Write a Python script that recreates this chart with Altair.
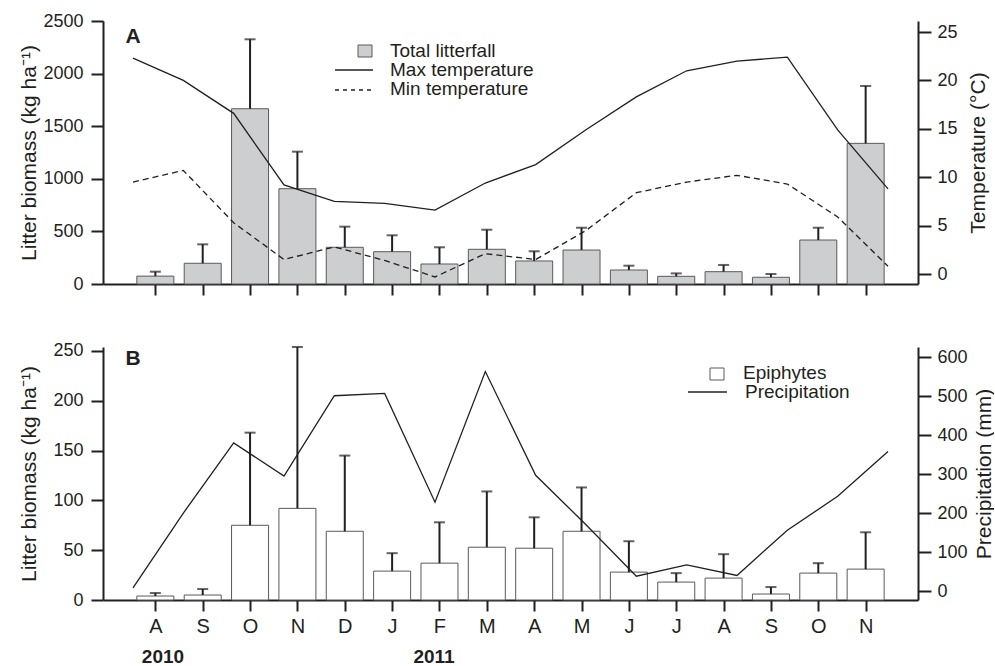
import altair as alt
import pandas as pd

# ---------------- data ----------------
months = ["A", "S", "O", "N", "D", "J", "F", "M", "A", "M", "J", "J", "A", "S", "O", "N"]
years = ["2010", "2011"]

litter = [75, 197, 1666, 906, 349, 307, 190, 330, 219, 323, 133, 73, 117, 64, 418, 1337]
litter_err = [42, 180, 660, 352, 196, 156, 159, 186, 92, 212, 41, 28, 64, 31, 117, 545]
tmax = [22.3, 20.0, 16.6, 9.2, 7.5, 7.3, 6.6, 9.4, 11.3, 14.9, 18.3, 21.0, 22.0, 22.4, 14.9, 8.8]
tmin = [9.5, 10.7, 5.3, 1.5, 2.8, 1.4, -0.3, 2.1, 1.5, 4.5, 8.4, 9.5, 10.2, 9.3, 5.9, 0.8]

epiphytes = [4, 5, 75, 92, 69, 29, 37, 53, 52, 69, 28, 18, 22, 6, 27, 31]
epiphytes_err = [3, 6, 93, 162, 76, 18, 41, 56, 31, 44, 31, 9, 24, 7, 10, 37]
precip = [8, 200, 380, 295, 501, 507, 228, 563, 297, 170, 38, 67, 40, 156, 243, 358]

# ---------------- styling ----------------
INK = "#231f20"
FONT = "Liberation Sans"
W = 815
H_TOP = 263
H_BOT = 253

pos = list(range(1, len(months) + 1))
top_df = pd.DataFrame({
    "pos": pos, "month": months, "val": litter,
    "upper": [v + e for v, e in zip(litter, litter_err)],
})
bot_df = pd.DataFrame({
    "pos": pos, "month": months, "val": epiphytes,
    "upper": [v + e for v, e in zip(epiphytes, epiphytes_err)],
})
temp_df = pd.DataFrame({"i": list(range(len(months))), "tmax": tmax, "tmin": tmin})
prec_df = pd.DataFrame({"i": list(range(len(months))), "precip": precip})

x_bar_scale = alt.Scale(domain=[0, len(months) + 1], nice=False, zero=False)
x_line_scale = alt.Scale(domain=[-0.596, len(months) - 1 + 0.596], nice=False, zero=False)

label_expr = "[" + ",".join("'" + m + "'" for m in [""] + months) + "][datum.value]"


def x_axis(show_labels):
    kw = dict(values=pos, tickSize=11, tickWidth=2, tickColor=INK, domainWidth=2,
              domainColor=INK, grid=False, title=None)
    if show_labels:
        return alt.Axis(labels=True, labelExpr=label_expr, labelFontSize=20, labelPadding=5,
                        labelColor=INK, labelFont=FONT, **kw)
    return alt.Axis(labels=False, **kw)


def left_axis(values, title, h):
    return alt.Axis(values=values, format="d", orient="left", tickSize=12, tickWidth=2,
                    tickColor=INK, domainWidth=2, domainColor=INK, labelFontSize=18,
                    labelPadding=8, labelColor=INK, labelFont=FONT, grid=False, title=title,
                    titleFontSize=21, titleFontWeight="normal", titleColor=INK, titleFont=FONT,
                    titleAngle=-90, titleX=-74, titleY=h / 2, titleBaseline="middle",
                    titleAlign="center")


def right_axis(values, title, h, tx):
    return alt.Axis(values=values, format="d", orient="right", tickSize=13, tickWidth=2,
                    tickColor=INK, domainWidth=2, domainColor=INK, labelFontSize=18,
                    labelPadding=6, labelColor=INK, labelFont=FONT, grid=False, title=title,
                    titleFontSize=21, titleFontWeight="normal", titleColor=INK, titleFont=FONT,
                    titleAngle=-90, titleX=tx, titleY=h / 2, titleBaseline="middle",
                    titleAlign="center")


def bar_block(df, fill, ydomain, yvalues, ytitle, h, show_labels):
    yscale = alt.Scale(domain=ydomain, nice=False, zero=False)
    base = alt.Chart(df)
    bars = base.mark_bar(width=37, fill=fill, stroke="#5a5a5a", strokeWidth=1).encode(
        x=alt.X("pos:Q", scale=x_bar_scale, axis=x_axis(show_labels)),
        y=alt.Y("val:Q", scale=yscale, axis=left_axis(yvalues, ytitle, h)),
    )
    err = base.mark_rule(color=INK, strokeWidth=2).encode(
        x="pos:Q", y="val:Q", y2="upper:Q"
    )
    caps = base.mark_tick(orient="horizontal", size=11, thickness=2, color=INK).encode(
        x="pos:Q", y="upper:Q"
    )
    return alt.layer(bars, err, caps)


def txt(s, x, y, size=19, weight="normal", align="left"):
    return alt.Chart(pd.DataFrame({"k": [0]})).mark_text(
        text=s, font=FONT, fontSize=size, fontWeight=weight, color=INK, align=align,
        baseline="alphabetic"
    ).encode(x=alt.value(x), y=alt.value(y))


def seg(x1, x2, y, dash=None):
    kw = dict(color=INK, strokeWidth=1.6)
    if dash:
        kw["strokeDash"] = dash
    return alt.Chart(pd.DataFrame({"k": [0]})).mark_rule(**kw).encode(
        x=alt.value(x1), x2=alt.value(x2), y=alt.value(y))


def box(x1, x2, y1, y2, fill):
    return alt.Chart(pd.DataFrame({"k": [0]})).mark_rect(
        fill=fill, stroke="#5a5a5a", strokeWidth=1).encode(
        x=alt.value(x1), x2=alt.value(x2), y=alt.value(y1), y2=alt.value(y2))


# ---------------- panel A ----------------
temp_scale = alt.Scale(domain=[-1.03, 26.14], nice=False, zero=False)
tbase = alt.Chart(temp_df)
tmax_line = tbase.mark_line(color=INK, strokeWidth=1.3).encode(
    x=alt.X("i:Q", scale=x_line_scale, axis=None),
    y=alt.Y("tmax:Q", scale=temp_scale,
            axis=right_axis([0, 5, 10, 15, 20, 25], "Temperature (°C)", H_TOP, 60)),
)
tmin_line = tbase.mark_line(color=INK, strokeWidth=1.3, strokeDash=[6, 4]).encode(
    x=alt.X("i:Q", scale=x_line_scale, axis=None),
    y=alt.Y("tmin:Q", scale=temp_scale),
)
top_lines = alt.layer(
    tmax_line, tmin_line,
    box(255, 269, 24, 36, "#cdced0"),
    seg(232, 270, 49),
    seg(232, 270, 69, [4, 4]),
    txt("Total litterfall", 287, 36),
    txt("Max temperature", 287, 55),
    txt("Min temperature", 287, 74),
    txt("A", 30, 22, size=21, weight="bold", align="center"),
)
top_bars = bar_block(top_df, "#cdced0", [0, 2500], [0, 500, 1000, 1500, 2000, 2500],
                     "Litter biomass (kg ha⁻¹)", H_TOP, False)
top = alt.layer(top_bars, top_lines).resolve_scale(y="independent", x="independent").properties(
    width=W, height=H_TOP)

# ---------------- panel B ----------------
prec_scale = alt.Scale(domain=[-23, 626], nice=False, zero=False)
prec_line = alt.Chart(prec_df).mark_line(color=INK, strokeWidth=1.3).encode(
    x=alt.X("i:Q", scale=x_line_scale, axis=None),
    y=alt.Y("precip:Q", scale=prec_scale,
            axis=right_axis([0, 100, 200, 300, 400, 500, 600], "Precipitation (mm)", H_BOT, 66)),
)
bot_lines = alt.layer(
    prec_line,
    box(607, 621, 21, 33, "white"),
    seg(585, 624, 45),
    txt("Epiphytes", 640, 32),
    txt("Precipitation", 642, 51),
    txt("B", 30, 18, size=21, weight="bold", align="center"),
    txt(years[0], 60, 316, size=19, weight="bold", align="center"),
    txt(years[1], 331, 316, size=19, weight="bold", align="center"),
)
bot_bars = bar_block(bot_df, "white", [0, 254], [0, 50, 100, 150, 200, 250],
                     "Litter biomass (kg ha⁻¹)", H_BOT, True)
bot = alt.layer(bot_bars, bot_lines).resolve_scale(y="independent", x="independent").properties(
    width=W, height=H_BOT)

chart = alt.vconcat(top, bot, spacing=45).properties(
    padding={"left": 17, "top": 12, "right": 0, "bottom": 0},
    background="white",
).configure_view(stroke=None).configure_text(font=FONT)

chart.save("out.html", embed_options={"renderer": "svg", "actions": False})
